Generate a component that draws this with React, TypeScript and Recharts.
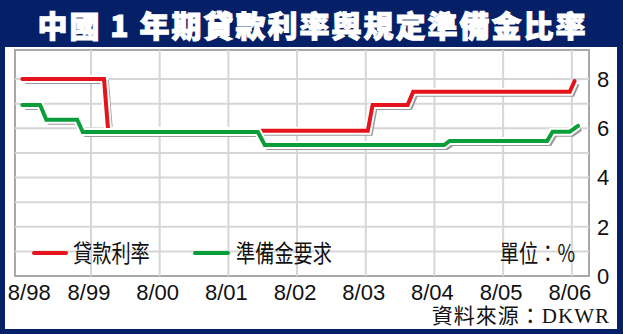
import { LineChart, Line, XAxis, YAxis, CartesianGrid } from "recharts"

// x = years since Aug 1998
const yearLabels = ["8/98", "8/99", "8/00", "8/01", "8/02", "8/03", "8/04", "8/05", "8/06"]
const yearTicks = [0, 1, 2, 3, 4, 5, 6, 7, 8]
const valueTicks = [0, 2, 4, 6, 8]
const gridValues = [1, 2, 3, 4, 5, 6, 7, 8]

const loanX = [0, 1.19, 1.25, 5.03, 5.1, 5.61, 5.69, 7.97, 8.04]
const loanRate = [8.0, 8.0, 5.9, 5.9, 6.95, 6.95, 7.48, 7.48, 7.92]

const reserveX = [0, 0.26, 0.35, 0.8, 0.88, 3.43, 3.53, 6.14, 6.22, 7.64, 7.72, 7.97, 8.09]
const reserveRate = [6.95, 6.95, 6.35, 6.35, 5.85, 5.85, 5.32, 5.32, 5.48, 5.48, 5.86, 5.86, 6.1]

const loanData = loanX.map((x, i) => ({ x, v: loanRate[i] }))
const reserveData = reserveX.map((x, i) => ({ x, v: reserveRate[i] }))

const NAVY = "#062068"
const RED = "#e5141c"
const GREEN = "#0a9e3a"
const SANS = "'Liberation Sans', Arial, sans-serif"
const CJK = "'Noto Sans CJK TC', 'Noto Sans CJK SC', sans-serif"

function YearTick(props: any) {
  const { x, y, payload, index } = props
  const dx = index === 0 ? 7 : -2
  return (
    <text x={x + dx} y={y} dy={16} textAnchor="middle" fill="#111" fontSize={22} fontFamily={SANS}>
      {yearLabels[payload.value]}
    </text>
  )
}

function lineSet(data: any[], color: string, key: string) {
  return [
    <Line key={key + "w"} data={data} dataKey="v" type="linear" stroke="#fff" strokeWidth={8}
      dot={false} activeDot={false} isAnimationActive={false} />,
    <Line key={key + "c"} data={data} dataKey="v" type="linear" stroke={color} strokeWidth={4}
      strokeLinecap="round" dot={false} activeDot={false} isAnimationActive={false} />,
  ]
}

export default function App() {
  return (
    <div style={{ position: "absolute", left: 0, top: 0, width: 623, height: 334, background: NAVY, overflow: "hidden" }}>
      <style>{`.shadow-line path { transform: translate(3px, 3px); }`}</style>
      <div style={{ position: "absolute", left: 5, top: 47, width: 612, height: 282, background: "#fff" }} />
      <div style={{ position: "absolute", left: 14, top: 49, width: 576, height: 228, boxSizing: "border-box", border: "2px solid #a8a8a8" }} />
      <div style={{ position: "absolute", left: 0, top: 0, width: 623, height: 47, display: "flex", alignItems: "center", justifyContent: "center", color: "#fff", fontFamily: CJK, fontWeight: 900, fontSize: 30, letterSpacing: 2, paddingLeft: 2, boxSizing: "border-box", WebkitTextStroke: "1px #fff" }}>
        中國 1 年期貸款利率與規定準備金比率
      </div>
      <div style={{ position: "absolute", left: 0, top: 0 }}>
        <LineChart width={623} height={334} margin={{ top: 50, left: 15, right: 0, bottom: 0 }}>
          <CartesianGrid stroke="#d6d6d6" strokeWidth={2} horizontalValues={gridValues} verticalValues={[1, 2, 3, 4, 5, 6, 7, 8]} />
          <XAxis type="number" dataKey="x" domain={[-0.106, 8.25]} ticks={yearTicks} allowDataOverflow
            axisLine={false} tickLine={false} interval={0} tick={<YearTick />} height={58} />
          <YAxis orientation="right" type="number" domain={[0, 9.18]} ticks={valueTicks} allowDataOverflow
            axisLine={false} tickLine={false} width={34}
            tick={{ fill: "#111", fontSize: 22, fontFamily: SANS }} />
          <Line data={loanData} dataKey="v" type="linear" stroke="#9a9a9a" strokeWidth={4} className="shadow-line"
            dot={false} activeDot={false} isAnimationActive={false} />
          <Line data={reserveData} dataKey="v" type="linear" stroke="#9a9a9a" strokeWidth={4} className="shadow-line"
            dot={false} activeDot={false} isAnimationActive={false} />
          {lineSet(loanData, RED, "r")}
          {lineSet(reserveData, GREEN, "g")}
        </LineChart>
      </div>
      {/* legend */}
      <div style={{ position: "absolute", left: 32, top: 251, width: 36, height: 4, borderRadius: 2, background: RED }} />
      <div style={{ position: "absolute", left: 73, top: 236, fontFamily: CJK, fontSize: 24, color: "#111", transform: "scaleX(0.8)", transformOrigin: "left center", whiteSpace: "nowrap", lineHeight: "32px" }}>貸款利率</div>
      <div style={{ position: "absolute", left: 193, top: 251, width: 37, height: 4, borderRadius: 2, background: GREEN }} />
      <div style={{ position: "absolute", left: 236, top: 236, fontFamily: CJK, fontSize: 24, color: "#111", transform: "scaleX(0.8)", transformOrigin: "left center", whiteSpace: "nowrap", lineHeight: "32px" }}>準備金要求</div>
      <div style={{ position: "absolute", right: 48, top: 236, fontFamily: CJK, fontSize: 24, color: "#111", transform: "scaleX(0.8)", transformOrigin: "right center", whiteSpace: "nowrap", lineHeight: "32px" }}>單位：%</div>
      {/* source */}
      <div style={{ position: "absolute", right: 13, top: 302, fontFamily: "'Liberation Serif', 'Noto Sans CJK TC', serif", fontSize: 21, color: "#111", letterSpacing: 1, whiteSpace: "nowrap", lineHeight: "28px" }}>資料來源：DKWR</div>
    </div>
  )
}
